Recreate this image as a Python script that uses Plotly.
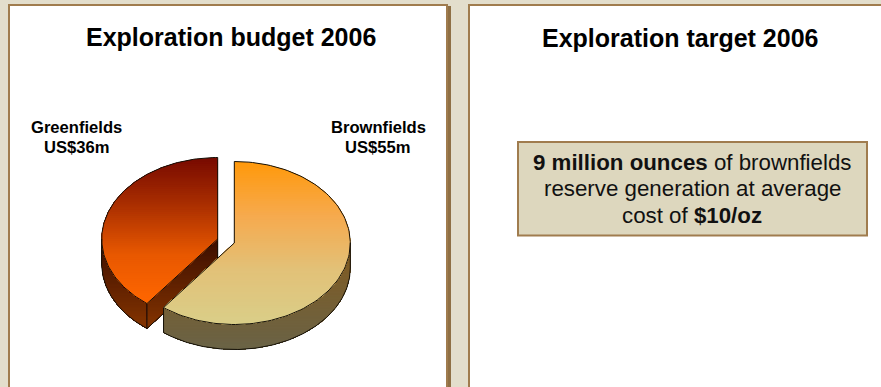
import math
import plotly.graph_objects as go

# Exploration budget, US$ million
SEGMENTS = ["Brownfields", "Greenfields"]
BUDGET = [55, 36]
UNIT = "US$"

TITLE_LEFT = "Exploration budget 2006"
TITLE_RIGHT = "Exploration target 2006"
TARGET_LINES = [
    "<b>9 million ounces</b> of brownfields",
    "reserve generation at average",
    "cost of <b>$10/oz</b>",
]

W, H = 881, 387
PAGE = "#E3DECC"
BROWN = "#A07C4E"
SHADOW = "#8F7045"
BOX_FILL = "#DDD7BE"
FONT = "Liberation Sans"

RX, RY, DEPTH = 116, 81.5, 25
CENTRES = {"Brownfields": (234.3, 243), "Greenfields": (217.7, 239)}
# Colour stops run from the top of each face to its bottom
TOP_RAMP = {
    "Brownfields": ((255, 153, 12), (246, 170, 78), (226, 193, 120), (218, 206, 136)),
    "Greenfields": ((120, 10, 0), (172, 48, 0), (232, 88, 0), (255, 102, 0)),
}
WALL_RAMP = {
    "Brownfields": ((130, 90, 30), (106, 99, 70)),
    "Greenfields": ((60, 14, 0), (132, 52, 0)),
}
BANDS = 70


def rim(cx, cy, start, stop, drop=0.0, n=120):
    """Points on the projected pie rim between two clockwise bearings."""
    pts = []
    for i in range(n + 1):
        t = math.radians(start + (stop - start) * i / n)
        pts.append((cx + RX * math.sin(t), cy - RY * math.cos(t) + drop))
    return pts


def clip_below(poly, level):
    """Keep the part of a polygon lying at or below a screen level."""
    out = []
    for i, a in enumerate(poly):
        b = poly[(i + 1) % len(poly)]
        if a[1] >= level:
            out.append(a)
        if (a[1] >= level) != (b[1] >= level):
            k = (level - a[1]) / (b[1] - a[1])
            out.append((a[0] + (b[0] - a[0]) * k, level))
    return out


def mix(stops, k):
    pos = k * (len(stops) - 1)
    j = min(int(pos), len(stops) - 2)
    f = pos - j
    a, b = stops[j], stops[j + 1]
    return "rgb(%d,%d,%d)" % tuple(round(a[i] + (b[i] - a[i]) * f) for i in range(3))


fig = go.Figure()


def add_gradient(poly, ramp):
    # Overlapping fills painted top to bottom, so no seams show between bands
    top = min(p[1] for p in poly)
    bottom = max(p[1] for p in poly)
    for i in range(BANDS):
        level = top + (bottom - top) * i / BANDS
        part = clip_below(poly, level)
        if len(part) < 3:
            continue
        fig.add_trace(go.Scatter(
            x=[p[0] for p in part] + [part[0][0]],
            y=[p[1] for p in part] + [part[0][1]],
            mode="lines", fill="toself", fillcolor=mix(ramp, i / (BANDS - 1)),
            line=dict(width=0), hoverinfo="skip", showlegend=False,
        ))


def add_outline(pts):
    fig.add_trace(go.Scatter(
        x=[p[0] for p in pts], y=[p[1] for p in pts], mode="lines",
        line=dict(color="#141008", width=1), hoverinfo="skip", showlegend=False,
    ))


total = sum(BUDGET)
split = 360 * BUDGET[0] / total

# Greenfields wedge: bearings run clockwise from twelve o'clock
name = SEGMENTS[1]
cx, cy = CENTRES[name]
a0, a1 = split, 360.0
outer = rim(cx, cy, a0, a1)
tip = outer[0]
wall_arc = rim(cx, cy, a0, 270)
wall = wall_arc + [(x, y + DEPTH) for x, y in reversed(wall_arc)]
cut = [(cx, cy), tip, (tip[0], tip[1] + DEPTH), (cx, cy + DEPTH)]
add_gradient(wall, WALL_RAMP[name])
add_gradient(cut, WALL_RAMP[name])
add_gradient(outer + [(cx, cy)], TOP_RAMP[name])
add_outline([(x, y + DEPTH) for x, y in wall_arc])
add_outline([wall_arc[-1], (wall_arc[-1][0], wall_arc[-1][1] + DEPTH)])
add_outline([tip, (tip[0], tip[1] + DEPTH)])
add_outline([(tip[0], tip[1] + DEPTH), (cx, cy + DEPTH)])
add_outline([(cx, cy + DEPTH), (cx, cy)])
add_outline(outer + [(cx, cy), outer[0]])

# Brownfields wedge
name = SEGMENTS[0]
cx, cy = CENTRES[name]
a0, a1 = 0.0, split
outer = rim(cx, cy, a0, a1)
wall_arc = rim(cx, cy, 90, a1)
wall = wall_arc + [(x, y + DEPTH) for x, y in reversed(wall_arc)]
add_gradient(wall, WALL_RAMP[name])
add_gradient(outer + [(cx, cy)], TOP_RAMP[name])
add_outline([(x, y + DEPTH) for x, y in wall_arc])
add_outline([wall_arc[0], (wall_arc[0][0], wall_arc[0][1] + DEPTH)])
add_outline([wall_arc[-1], (wall_arc[-1][0], wall_arc[-1][1] + DEPTH)])
add_outline(outer + [(cx, cy), outer[0]])


def panel(x0, y0, x1, y1):
    return [
        dict(type="rect", x0=x0 + 2, y0=y0 + 2, x1=x1 + 3, y1=y1, fillcolor=SHADOW,
             line_width=0, layer="below"),
        dict(type="rect", x0=x0, y0=y0, x1=x1, y1=y1, fillcolor=BROWN,
             line_width=0, layer="below"),
        dict(type="rect", x0=x0 + 2, y0=y0 + 2, x1=x1 - 2, y1=y1, fillcolor="white",
             line_width=0, layer="below"),
    ]


shapes = panel(8, 4, 448, H + 5) + panel(468, 4, W + 8, H + 5)
shapes.append(dict(type="rect", x0=518, y0=142, x1=867, y1=235.5, fillcolor=BOX_FILL,
                   line=dict(color=BROWN, width=2), layer="above"))


def label(x, y, text, size, color="black"):
    return dict(x=x, y=y, text=text, showarrow=False, xanchor="center", yanchor="middle",
                font=dict(family=FONT, size=size, color=color))


notes = [
    label(231, 37, "<b>%s</b>" % TITLE_LEFT, 25),
    label(680, 38, "<b>%s</b>" % TITLE_RIGHT, 25),
    label(76.5, 127, "<b>%s</b>" % SEGMENTS[1], 16.6),
    label(76.5, 147, "<b>%s%dm</b>" % (UNIT, BUDGET[1]), 16.6),
    label(378, 127, "<b>%s</b>" % SEGMENTS[0], 16.6),
    label(378, 147, "<b>%s%dm</b>" % (UNIT, BUDGET[0]), 16.6),
]
for line, y in zip(TARGET_LINES, (162, 188.6, 215.4)):
    notes.append(label(692, y, line, 22.3, "#111111"))

fig.update_layout(
    width=W, height=H, margin=dict(l=0, r=0, t=0, b=0),
    paper_bgcolor=PAGE, plot_bgcolor=PAGE, showlegend=False,
    shapes=shapes, annotations=notes,
    xaxis=dict(range=[0, W], visible=False, fixedrange=True),
    yaxis=dict(range=[H, 0], visible=False, fixedrange=True),
)
fig.write_html("out.html", config=dict(displayModeBar=False))
